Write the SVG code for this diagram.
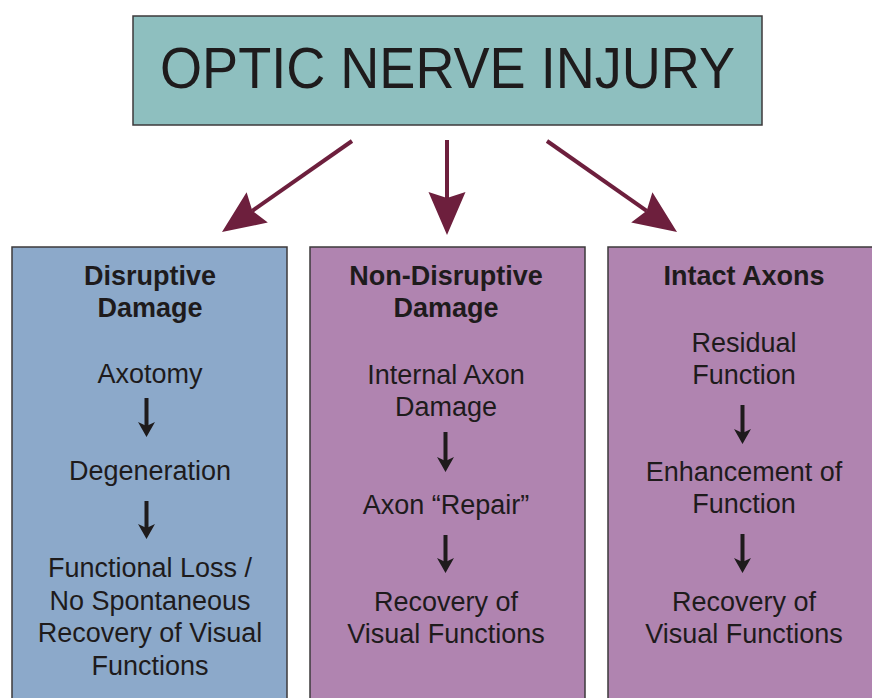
<svg xmlns="http://www.w3.org/2000/svg" width="872" height="698" viewBox="0 0 872 698">
<style>
.t{font-family:"Liberation Sans",Arial,sans-serif;fill:#1E1B1C;text-anchor:middle;font-size:27px}
.b{font-weight:bold}
.box{stroke:#3C3A3B;stroke-width:1.5}
.big{stroke:#6D1F3D;stroke-width:4;fill:none}
.sm{stroke:#1E1B1C;stroke-width:4;fill:none}
</style>
<defs>
<marker id="bigHead" markerUnits="userSpaceOnUse" viewBox="-44 -20 46 40" refX="-37" refY="0" markerWidth="46" markerHeight="40" orient="auto">
<path d="M0,0 L-43,-18.5 L-37,0 L-43,18.5 Z" fill="#6D1F3D"/>
</marker>
<marker id="smHead" markerUnits="userSpaceOnUse" viewBox="-16 -10 17 20" refX="-11" refY="0" markerWidth="17" markerHeight="20" orient="auto">
<path d="M0,0 L-15,-8.5 L-11,0 L-15,8.5 Z" fill="#1E1B1C"/>
</marker>
</defs>
<rect width="872" height="698" fill="#FFFFFF"/>
<g id="optic-nerve-injury">
<rect class="box" x="133" y="16" width="629" height="109" fill="#8EBFBF" stroke-width="2"/>
<text class="t" x="447.5" y="88" style="font-size:58px" textLength="575" lengthAdjust="spacingAndGlyphs">OPTIC NERVE INJURY</text>
</g>
<g id="connectors">
<line class="big" x1="352" y1="141" x2="252.3" y2="210.8" marker-end="url(#bigHead)"/>
<line class="big" x1="447" y1="140" x2="447" y2="198" marker-end="url(#bigHead)"/>
<line class="big" x1="547" y1="141" x2="646.7" y2="210.8" marker-end="url(#bigHead)"/>
</g>
<g id="disruptive-damage">
<rect class="box" x="12" y="247" width="275" height="460" fill="#8CA9CA"/>
<text class="t b" x="150" y="285">Disruptive</text>
<text class="t b" x="150" y="317">Damage</text>
<text class="t" x="150" y="383">Axotomy</text>
<line class="sm" x1="146.5" y1="398" x2="146.5" y2="426" marker-end="url(#smHead)"/>
<text class="t" x="150" y="480">Degeneration</text>
<line class="sm" x1="146.5" y1="501" x2="146.5" y2="528" marker-end="url(#smHead)"/>
<text class="t" x="150" y="577">Functional Loss /</text>
<text class="t" x="150" y="610">No Spontaneous</text>
<text class="t" x="150" y="642">Recovery of Visual</text>
<text class="t" x="150" y="675">Functions</text>
</g>
<g id="non-disruptive-damage">
<rect class="box" x="310" y="247" width="275" height="460" fill="#B084B0"/>
<text class="t b" x="446" y="285">Non-Disruptive</text>
<text class="t b" x="446" y="317">Damage</text>
<text class="t" x="446" y="384">Internal Axon</text>
<text class="t" x="446" y="416">Damage</text>
<line class="sm" x1="445.5" y1="432" x2="445.5" y2="461" marker-end="url(#smHead)"/>
<text class="t" x="446" y="514">Axon “Repair”</text>
<line class="sm" x1="445.5" y1="535" x2="445.5" y2="562" marker-end="url(#smHead)"/>
<text class="t" x="446" y="611">Recovery of</text>
<text class="t" x="446" y="643">Visual Functions</text>
</g>
<g id="intact-axons">
<rect class="box" x="608" y="247" width="275" height="460" fill="#B084B0"/>
<text class="t b" x="744" y="285">Intact Axons</text>
<text class="t" x="744" y="352">Residual</text>
<text class="t" x="744" y="384">Function</text>
<line class="sm" x1="742.5" y1="405" x2="742.5" y2="433" marker-end="url(#smHead)"/>
<text class="t" x="744" y="481">Enhancement of</text>
<text class="t" x="744" y="513">Function</text>
<line class="sm" x1="742.5" y1="534" x2="742.5" y2="562" marker-end="url(#smHead)"/>
<text class="t" x="744" y="611">Recovery of</text>
<text class="t" x="744" y="643">Visual Functions</text>
</g>
</svg>
